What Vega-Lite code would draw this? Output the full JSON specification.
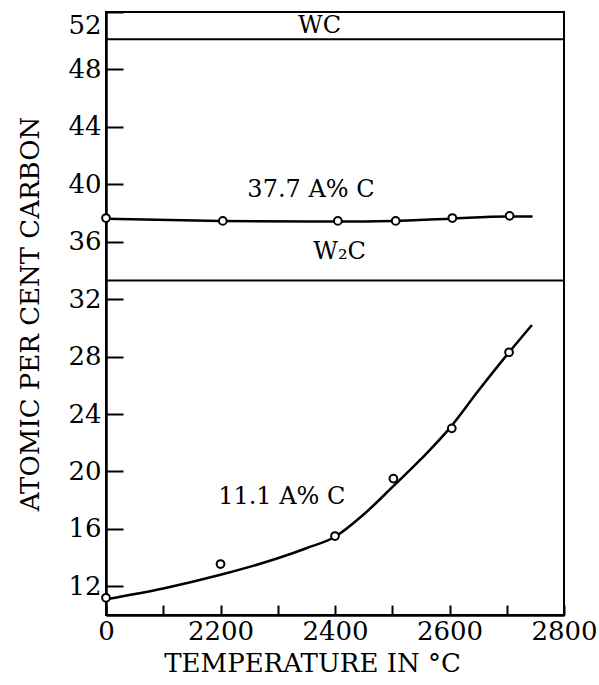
{
  "$schema": "https://vega.github.io/schema/vega-lite/v6.json",
  "width": 458,
  "height": 603,
  "autosize": "none",
  "padding": {"left": 106, "top": 12, "right": 35, "bottom": 70},
  "background": "white",
  "config": {
    "view": {"stroke": "black", "strokeWidth": 2},
    "font": "DejaVu Serif",
    "axis": {"grid": false, "labelFlush": false, "domainColor": "black", "domainWidth": 2.5, "tickColor": "black", "tickWidth": 2, "labelColor": "black", "titleColor": "black", "labelFontSize": 26, "titleFontSize": 26, "titleFontWeight": "normal", "labelFont": "DejaVu Serif", "titleFont": "DejaVu Serif"}
  },
  "datasets": {
    "pts": [
      {"series": "upper", "t": 2000, "c": 37.65},
      {"series": "upper", "t": 2204, "c": 37.45},
      {"series": "upper", "t": 2405, "c": 37.45},
      {"series": "upper", "t": 2506, "c": 37.45},
      {"series": "upper", "t": 2605, "c": 37.65},
      {"series": "upper", "t": 2705, "c": 37.8},
      {"series": "lower", "t": 2000, "c": 11.2},
      {"series": "lower", "t": 2200, "c": 13.55},
      {"series": "lower", "t": 2400, "c": 15.5},
      {"series": "lower", "t": 2502, "c": 19.5},
      {"series": "lower", "t": 2604, "c": 23.0},
      {"series": "lower", "t": 2704, "c": 28.3}
    ],
    "curve": [
      {"series": "upper", "t": 2000, "c": 37.6},
      {"series": "upper", "t": 2200, "c": 37.45},
      {"series": "upper", "t": 2400, "c": 37.4},
      {"series": "upper", "t": 2500, "c": 37.45},
      {"series": "upper", "t": 2600, "c": 37.6},
      {"series": "upper", "t": 2700, "c": 37.75},
      {"series": "upper", "t": 2745, "c": 37.75},
      {"series": "lower", "t": 2000, "c": 11.1},
      {"series": "lower", "t": 2100, "c": 11.85},
      {"series": "lower", "t": 2200, "c": 12.8},
      {"series": "lower", "t": 2300, "c": 13.95},
      {"series": "lower", "t": 2350, "c": 14.65},
      {"series": "lower", "t": 2400, "c": 15.45},
      {"series": "lower", "t": 2450, "c": 17.0},
      {"series": "lower", "t": 2500, "c": 18.9},
      {"series": "lower", "t": 2550, "c": 20.85},
      {"series": "lower", "t": 2600, "c": 23.0},
      {"series": "lower", "t": 2650, "c": 25.6},
      {"series": "lower", "t": 2700, "c": 28.1},
      {"series": "lower", "t": 2744, "c": 30.2}
    ],
    "bounds": [
      {"name": "WC", "c": 50.1},
      {"name": "W2C", "c": 33.3}
    ],
    "labels": [
      {"t": 2373, "c": 51.0, "text": "WC"},
      {"t": 2358, "c": 39.6, "text": "37.7 A% C"},
      {"t": 2408, "c": 35.3, "text": "W₂C"},
      {"t": 2307, "c": 18.2, "text": "11.1 A% C"}
    ]
  },
  "layer": [
    {
      "data": {"name": "curve"},
      "mark": {"type": "line", "interpolate": "monotone", "color": "black", "strokeWidth": 2.5},
      "encoding": {
        "x": {
          "field": "t", "type": "quantitative",
          "scale": {"domain": [2000, 2800], "nice": false, "zero": false},
          "axis": {
            "title": "TEMPERATURE IN °C",
            "values": [2000, 2100, 2200, 2300, 2400, 2500, 2600, 2700, 2800],
            "format": "d",
            "labelExpr": "datum.value == 2000 ? '0' : (datum.value % 200 == 0 ? datum.label : '')",
            "tickSize": -10,
            "labelPadding": 13,
            "titlePadding": 6,
            "titleX": 206
          }
        },
        "y": {
          "field": "c", "type": "quantitative",
          "scale": {"domain": [10, 52], "nice": false, "zero": false},
          "axis": {
            "title": "ATOMIC PER CENT CARBON",
            "values": [12, 14, 16, 18, 20, 22, 24, 26, 28, 30, 32, 34, 36, 38, 40, 42, 44, 46, 48, 50, 52],
            "labelExpr": "datum.value % 4 == 0 ? datum.label : ''",
            "labelFlush": true,
            "tickSize": {"condition": {"test": "datum.value % 4 == 0", "value": -17}, "value": -8},
            "labelPadding": 22,
            "titlePadding": 24
          }
        },
        "detail": {"field": "series"}
      }
    },
    {
      "data": {"name": "pts"},
      "mark": {"type": "point", "shape": "circle", "filled": false, "fill": "white", "stroke": "black", "strokeWidth": 2, "size": 60, "opacity": 1},
      "encoding": {
        "x": {"field": "t", "type": "quantitative"},
        "y": {"field": "c", "type": "quantitative"}
      }
    },
    {
      "data": {"name": "bounds"},
      "mark": {"type": "rule", "color": "black", "strokeWidth": 2},
      "encoding": {
        "y": {"field": "c", "type": "quantitative"}
      }
    },
    {
      "data": {"name": "labels"},
      "mark": {"type": "text", "font": "DejaVu Serif", "fontSize": 24, "color": "black"},
      "encoding": {
        "x": {"field": "t", "type": "quantitative"},
        "y": {"field": "c", "type": "quantitative"},
        "text": {"field": "text"}
      }
    }
  ]
}
